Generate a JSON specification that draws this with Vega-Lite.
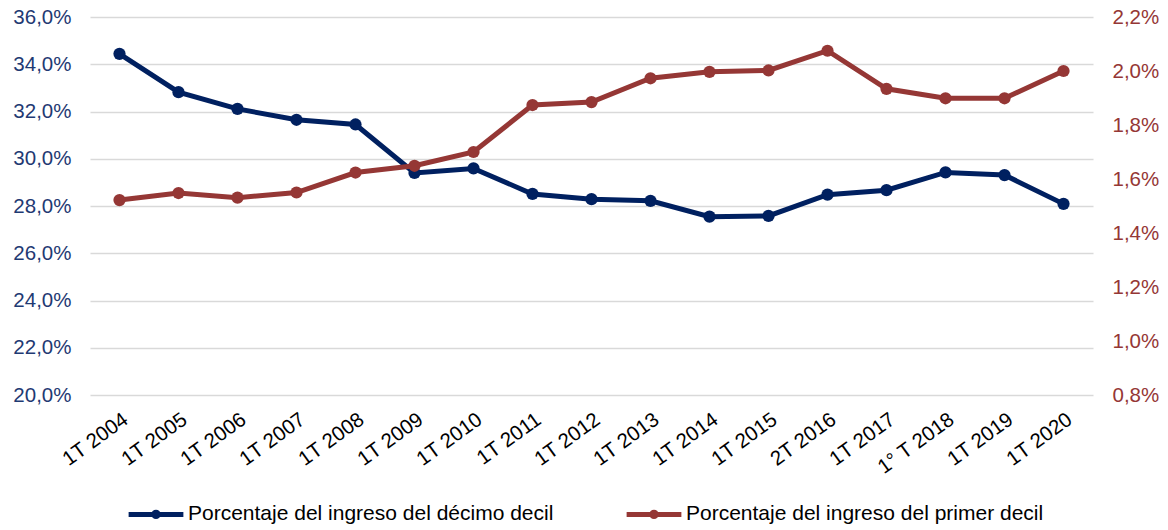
{
  "$schema": "https://vega.github.io/schema/vega-lite/v6.json",
  "autosize": {"type": "none"},
  "padding": {"left": 90, "top": 17, "right": 75, "bottom": 135},
  "width": 1003,
  "height": 378,
  "config": {
    "view": {"stroke": null},
    "font": "Liberation Sans",
    "axis": {"labelFont": "Liberation Sans", "titleFont": "Liberation Sans"},
    "legend": {"labelFont": "Liberation Sans"}
  },
  "data": {
    "values": [
      {"t": "1T 2004", "decimo": 34.44, "primero": 1.522},
      {"t": "1T 2005", "decimo": 32.82, "primero": 1.548},
      {"t": "1T 2006", "decimo": 32.11, "primero": 1.531},
      {"t": "1T 2007", "decimo": 31.65, "primero": 1.550},
      {"t": "1T 2008", "decimo": 31.45, "primero": 1.624},
      {"t": "1T 2009", "decimo": 29.40, "primero": 1.649},
      {"t": "1T 2010", "decimo": 29.59, "primero": 1.700},
      {"t": "1T 2011", "decimo": 28.51, "primero": 1.874},
      {"t": "1T 2012", "decimo": 28.29, "primero": 1.885},
      {"t": "1T 2013", "decimo": 28.22, "primero": 1.973},
      {"t": "1T 2014", "decimo": 27.55, "primero": 1.997},
      {"t": "1T 2015", "decimo": 27.58, "primero": 2.002},
      {"t": "2T 2016", "decimo": 28.48, "primero": 2.075},
      {"t": "1T 2017", "decimo": 28.67, "primero": 1.934},
      {"t": "1° T 2018", "decimo": 29.42, "primero": 1.899},
      {"t": "1T 2019", "decimo": 29.31, "primero": 1.899},
      {"t": "1T 2020", "decimo": 28.09, "primero": 2.000}
    ]
  },
  "encoding": {
    "x": {
      "field": "t", "type": "ordinal", "sort": null, "title": null,
      "scale": {"paddingInner": 0, "paddingOuter": 0.5},
      "axis": {
        "domain": false, "ticks": false, "grid": false,
        "labelAngle": -36, "labelAlign": "right", "labelBaseline": "top",
        "labelPadding": 14, "labelFontSize": 20.5, "labelColor": "#000000"
      }
    },
    "color": {
      "scale": {
        "domain": ["Porcentaje del ingreso del décimo decil", "Porcentaje del ingreso del primer decil"],
        "range": ["#002060", "#953735"]
      },
      "legend": {
        "title": null,
        "orient": "none",
        "legendX": 36,
        "legendY": 467,
        "direction": "horizontal",
        "columnPadding": 62,
        "labelFontSize": 21,
        "labelLimit": 0,
        "labelColor": "#000000",
        "labelOffset": 2,
        "symbolType": "M-1,0H1M0.08,0A0.08,0.08 0 1,1 -0.08,0A0.08,0.08 0 1,1 0.08,0",
        "symbolSize": 3000,
        "symbolStrokeWidth": 5,
        "symbolOpacity": 1,
        "encode": {
          "symbols": {
            "update": {
              "stroke": {"scale": "color", "field": "value"},
              "fill": {"value": "transparent"},
              "strokeWidth": {"value": 5},
              "opacity": {"value": 1}
            }
          }
        }
      }
    }
  },
  "layer": [
    {
      "encoding": {
        "y": {
          "field": "decimo", "type": "quantitative", "title": null,
          "scale": {"domain": [20, 36], "nice": false, "zero": false},
          "axis": {
            "values": [20, 22, 24, 26, 28, 30, 32, 34, 36],
            "labelExpr": "replace(format(datum.value, '.1f'), '.', ',') + '%'",
            "domain": false, "ticks": false,
            "grid": true, "gridColor": "#d9d9d9", "gridWidth": 1.5,
            "labelFontSize": 20.5, "labelColor": "#1f3a73", "labelPadding": 19
          }
        },
        "color": {"datum": "Porcentaje del ingreso del décimo decil"}
      },
      "layer": [
        {"mark": {"type": "line", "strokeWidth": 5}},
        {"mark": {"type": "point", "filled": true, "size": 150, "opacity": 1}}
      ]
    },
    {
      "encoding": {
        "y": {
          "field": "primero", "type": "quantitative", "title": null,
          "scale": {"domain": [0.8, 2.2], "nice": false, "zero": false},
          "axis": {
            "orient": "right",
            "values": [0.8, 1.0, 1.2, 1.4, 1.6, 1.8, 2.0, 2.2],
            "labelExpr": "replace(format(datum.value, '.1f'), '.', ',') + '%'",
            "domain": false, "ticks": false, "grid": false,
            "labelFontSize": 20.5, "labelColor": "#953735", "labelPadding": 19
          }
        },
        "color": {"datum": "Porcentaje del ingreso del primer decil"}
      },
      "layer": [
        {"mark": {"type": "line", "strokeWidth": 5}},
        {"mark": {"type": "point", "filled": true, "size": 150, "opacity": 1}}
      ]
    }
  ],
  "resolve": {"scale": {"y": "independent"}}
}
